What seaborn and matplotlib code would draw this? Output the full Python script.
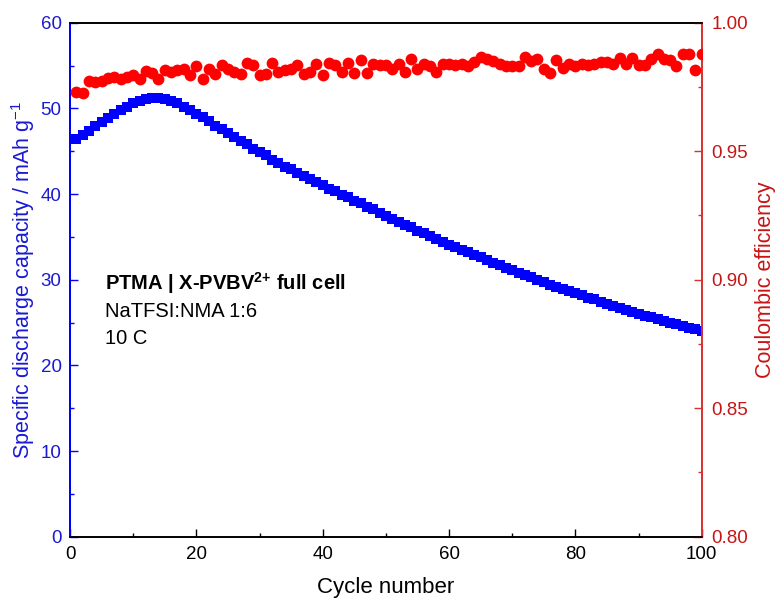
import matplotlib
matplotlib.use('Agg')
import matplotlib.pyplot as plt
from matplotlib import ticker
import numpy as np
import pandas as pd
import seaborn as sns

# cycle numbers
cycles = list(range(1, 101))

# specific discharge capacity / mAh g-1
capacity = [
    46.4, 46.9, 47.4, 47.9, 48.4, 48.9, 49.4, 49.8, 50.2, 50.6,
    50.9, 51.1, 51.2, 51.2, 51.1, 50.9, 50.6, 50.2, 49.8, 49.4,
    49.0, 48.5, 48.0, 47.6, 47.1, 46.7, 46.2, 45.8, 45.3, 44.9,
    44.5, 44.0, 43.6, 43.2, 42.9, 42.5, 42.1, 41.8, 41.4, 41.0,
    40.6, 40.3, 39.9, 39.6, 39.2, 38.9, 38.5, 38.2, 37.8, 37.4,
    37.1, 36.7, 36.4, 36.1, 35.7, 35.4, 35.1, 34.8, 34.4, 34.1,
    33.8, 33.5, 33.2, 32.9, 32.6, 32.3, 32.0, 31.7, 31.4, 31.1,
    30.8, 30.5, 30.3, 30.0, 29.7, 29.4, 29.2, 28.9, 28.7, 28.4,
    28.2, 27.9, 27.7, 27.4, 27.2, 26.9, 26.7, 26.5, 26.2, 26.0,
    25.8, 25.6, 25.4, 25.2, 25.0, 24.8, 24.6, 24.4, 24.2, 24.0,
]

# coulombic efficiency
efficiency = [
    0.9732, 0.9728, 0.9772, 0.9770, 0.9774, 0.9786, 0.9790, 0.9780, 0.9790, 0.9795,
    0.9780, 0.9813, 0.9805, 0.9780, 0.9815, 0.9810, 0.9815, 0.9820, 0.9795, 0.9830,
    0.9780, 0.9820, 0.9800, 0.9835, 0.9820, 0.9810, 0.9800, 0.9844, 0.9835, 0.9797,
    0.9800, 0.9845, 0.9810, 0.9815, 0.9820, 0.9835, 0.9800, 0.9810, 0.9840, 0.9797,
    0.9845, 0.9835, 0.9810, 0.9845, 0.9805, 0.9855, 0.9805, 0.9840, 0.9835, 0.9835,
    0.9820, 0.9840, 0.9810, 0.9860, 0.9820, 0.9840, 0.9830, 0.9810, 0.9838, 0.9838,
    0.9835, 0.9840, 0.9830, 0.9848, 0.9865, 0.9860, 0.9850, 0.9840, 0.9830, 0.9830,
    0.9830, 0.9868, 0.9850, 0.9860, 0.9820, 0.9805, 0.9855, 0.9825, 0.9838, 0.9830,
    0.9840, 0.9835, 0.9840, 0.9848, 0.9848, 0.9838, 0.9862, 0.9838, 0.9862, 0.9835,
    0.9835, 0.9860, 0.9880, 0.9860, 0.9855, 0.9830, 0.9877, 0.9880, 0.9815, 0.9880,
]

if __name__ == '__main__':
    sns.set_style('ticks')
    plt.rcParams['font.family'] = ['Liberation Sans', 'DejaVu Sans']
    plt.rcParams['mathtext.fontset'] = 'custom'
    plt.rcParams['mathtext.rm'] = 'Liberation Sans'
    plt.rcParams['mathtext.bf'] = 'Liberation Sans:bold'
    plt.rcParams['text.color'] = 'black'
    plt.rcParams['axes.labelcolor'] = 'black'

    df = pd.DataFrame({'cycle': cycles, 'capacity': capacity, 'ce': efficiency})

    BLUE = '#0000ff'
    BLUE_TXT = '#1a1ad2'
    RED = '#ff0000'
    RED_AX = '#d93030'
    RED_TXT = '#c81414'

    fig = plt.figure(figsize=(7.79, 6.01), dpi=100)
    ax = fig.add_axes([0.0899, 0.107, 0.8109, 0.8552])
    ax2 = ax.twinx()

    sns.scatterplot(data=df, x='cycle', y='capacity', marker='s', s=50, color=BLUE,
                    linewidth=0, ax=ax, zorder=3)
    sns.scatterplot(data=df, x='cycle', y='ce', marker='o', s=72, color=RED,
                    linewidth=0, ax=ax2, zorder=3)

    ax.set_xlim(0, 100)
    ax.set_ylim(0, 60)
    ax2.set_ylim(0.80, 1.00)

    ax.xaxis.set_major_locator(ticker.MultipleLocator(20))
    ax.xaxis.set_minor_locator(ticker.MultipleLocator(10))
    ax.yaxis.set_major_locator(ticker.MultipleLocator(10))
    ax.yaxis.set_minor_locator(ticker.MultipleLocator(5))
    ax2.yaxis.set_major_locator(ticker.MultipleLocator(0.05))
    ax2.yaxis.set_minor_locator(ticker.MultipleLocator(0.025))
    ax2.yaxis.set_major_formatter(ticker.FormatStrFormatter('%.2f'))

    ax.tick_params(axis='x', which='both', direction='in', top=False, colors='black',
                   labelsize=13.5, pad=7)
    ax.tick_params(axis='x', which='major', length=6, width=1)
    ax.tick_params(axis='x', which='minor', length=3, width=1)
    ax.tick_params(axis='y', which='both', direction='in', colors=BLUE, labelcolor=BLUE_TXT,
                   labelsize=13.5, pad=6)
    ax.tick_params(axis='y', which='major', length=6, width=1)
    ax.tick_params(axis='y', which='minor', length=3, width=1)
    ax2.tick_params(axis='y', which='both', direction='in', colors=RED_AX, labelcolor=RED_TXT,
                    labelsize=13.5, pad=7)
    ax2.tick_params(axis='y', which='major', length=6, width=1)
    ax2.tick_params(axis='y', which='minor', length=3, width=1)

    for a in (ax, ax2):
        for side in ('top', 'bottom'):
            a.spines[side].set_visible(True)
            a.spines[side].set_color('black')
            a.spines[side].set_linewidth(1.2)
    ax.spines['left'].set_color(BLUE)
    ax.spines['left'].set_linewidth(1.4)
    ax2.spines['left'].set_color(BLUE)
    ax2.spines['left'].set_linewidth(1.4)
    ax2.spines['right'].set_visible(True)
    ax2.spines['right'].set_color(RED_AX)
    ax2.spines['right'].set_linewidth(1.4)
    ax.spines['right'].set_visible(False)

    ax.set_xlabel('Cycle number', fontsize=16, labelpad=10, color='black')
    ax.set_ylabel('Specific discharge capacity / mAh g$^{-1}$', fontsize=15.5,
                  color=BLUE_TXT, labelpad=3)
    ax2.set_ylabel('Coulombic efficiency', fontsize=15.5, color=RED_TXT, labelpad=5)

    ax.text(0.0554, 0.48, 'PTMA | X-PVBV$\\mathbf{^{2{+}}}$ full cell', transform=ax.transAxes,
            fontsize=14.5, fontweight='bold', va='baseline', ha='left', color='black')
    ax.text(0.0554, 0.4274, 'NaTFSI:NMA 1:6', transform=ax.transAxes,
            fontsize=14.5, va='baseline', ha='left', color='black')
    ax.text(0.0554, 0.3749, '10 C', transform=ax.transAxes,
            fontsize=14.5, va='baseline', ha='left', color='black')

    plt.savefig('out.png', dpi=100)
